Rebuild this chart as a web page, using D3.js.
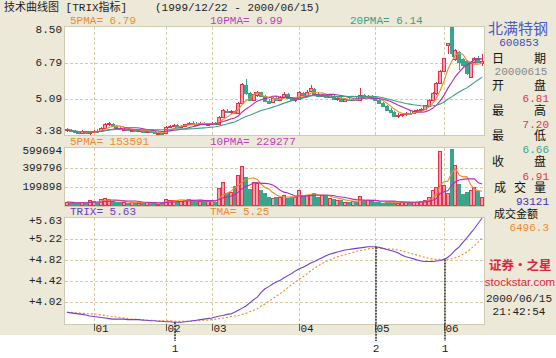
<!DOCTYPE html>
<html><head><meta charset="utf-8">
<script src="https://cdn.jsdelivr.net/npm/d3@7/dist/d3.min.js"></script>
<style>body{margin:0;background:#fff;}svg{display:block}</style>
</head><body><svg id="c" width="556" height="358"></svg>
<script>
// ---------------- data ----------------
const opens = [3.60,3.64,3.55,3.50,3.47,3.55,3.48,3.52,3.58,3.56,3.72,3.88,3.92,3.80,3.72,3.66,3.68,3.62,3.64,3.58,3.60,3.54,3.56,3.50,3.46,3.48,
3.46,3.76,3.82,3.86,3.78,3.80,3.88,3.96,3.92,3.90,3.96,3.90,
3.92,3.95,3.90,4.24,4.52,4.48,4.50,4.42,4.90,5.74,5.36,5.02,5.30,5.40,5.22,5.00,4.94,5.14,5.06,5.16,5.32,5.12,5.04,
5.08,5.38,5.24,5.46,5.58,5.32,5.22,5.28,5.18,5.24,5.08,5.12,5.00,5.08,5.04,5.10,5.06,5.28,5.16,5.22,
5.12,5.04,4.92,4.76,4.58,4.46,4.26,4.32,4.38,4.44,4.40,4.52,4.56,4.60,4.74,5.04,5.36,5.84,
6.40,7.66,8.48,6.96,7.30,6.98,6.90,6.14,6.86,7.02,6.81];
const highs = [3.72,3.68,3.60,3.56,3.60,3.58,3.58,3.62,3.66,3.75,3.96,3.98,3.95,3.84,3.76,3.72,3.70,3.68,3.66,3.64,3.66,3.62,3.60,3.56,3.52,3.54,
3.80,3.86,3.90,3.88,3.84,3.92,4.02,4.05,3.98,4.00,4.00,3.96,
4.00,4.02,4.28,4.60,4.62,4.58,4.56,4.95,5.86,6.05,5.42,5.40,5.48,5.44,5.26,5.10,5.20,5.22,5.24,5.40,5.36,5.18,5.14,
5.46,5.42,5.50,5.76,5.62,5.40,5.34,5.32,5.30,5.28,5.16,5.16,5.12,5.14,5.12,5.16,5.60,5.34,5.28,5.26,
5.18,5.08,4.96,4.80,4.64,4.50,4.40,4.42,4.48,4.50,4.56,4.60,4.66,4.82,5.10,5.40,5.88,6.44,
7.04,7.74,8.50,7.44,7.34,7.03,6.93,6.82,7.10,7.12,7.20];
const lows = [3.52,3.50,3.46,3.42,3.45,3.44,3.40,3.48,3.52,3.54,3.70,3.80,3.78,3.68,3.62,3.60,3.58,3.56,3.55,3.54,3.50,3.50,3.46,3.42,3.40,3.38,
3.44,3.70,3.76,3.74,3.72,3.78,3.84,3.88,3.84,3.86,3.86,3.84,
3.86,3.88,3.88,4.20,4.40,4.36,4.36,4.40,4.86,5.30,5.00,4.98,5.20,5.16,4.94,4.86,4.90,5.00,5.02,5.12,5.08,4.98,4.96,
5.04,5.20,5.20,5.40,5.30,5.16,5.16,5.12,5.14,5.02,4.98,4.96,4.96,4.98,4.98,5.00,5.02,5.12,5.12,5.10,
5.00,4.88,4.70,4.54,4.40,4.22,4.20,4.24,4.30,4.36,4.36,4.44,4.48,4.56,4.70,5.00,5.30,5.80,
6.36,7.20,7.10,6.90,6.46,6.60,6.22,6.10,6.80,6.78,6.66];
const closes = [3.66,3.55,3.50,3.47,3.56,3.48,3.54,3.58,3.55,3.72,3.90,3.93,3.80,3.72,3.66,3.68,3.62,3.64,3.58,3.60,3.54,3.58,3.50,3.46,3.49,3.44,
3.76,3.82,3.86,3.78,3.80,3.88,3.97,3.92,3.90,3.96,3.90,3.92,
3.95,3.92,4.24,4.55,4.48,4.54,4.42,4.90,5.80,5.36,5.04,5.34,5.42,5.22,5.00,4.92,5.14,5.06,5.18,5.34,5.12,5.04,5.10,
5.40,5.26,5.44,5.60,5.34,5.22,5.28,5.18,5.26,5.08,5.12,5.00,5.08,5.04,5.10,5.06,5.30,5.18,5.24,5.14,
5.04,4.92,4.76,4.58,4.46,4.28,4.34,4.38,4.44,4.40,4.52,4.56,4.60,4.78,5.06,5.36,5.84,6.40,
7.04,7.74,7.28,7.40,6.84,6.72,6.30,6.80,7.04,6.84,6.91];
const volumes = [42000,35000,28000,30000,38000,32000,62000,48000,36000,70000,88000,72000,55000,42000,38000,45000,36000,40000,32000,30000,34000,38000,28000,30000,26000,32000,
78000,66000,62000,58000,55000,64000,72000,60000,48000,56000,50000,52000,
48000,44000,190000,250000,135000,145000,210000,325000,420000,300000,180000,250000,240000,167000,135000,95000,80000,95000,95000,115000,80000,95000,95000,
167000,110000,110000,120000,137000,95000,110000,100000,80000,70000,63000,63000,45000,45000,48000,42000,105000,55000,60000,50000,
45000,40000,35000,45000,38000,42000,36000,40000,42000,38000,44000,40000,48000,60000,95000,170000,200000,575000,
220000,135000,599694,430000,230000,130000,150000,170000,200000,155000,93121];
const trix = [3.83,3.82,3.81,3.80,3.79,3.78,3.76,3.75,3.74,3.73,3.72,3.71,3.70,3.70,3.70,3.70,3.69,3.69,3.69,3.69,3.68,3.68,3.67,3.67,3.66,3.66,
3.65,3.65,3.64,3.64,3.64,3.65,3.66,3.67,3.68,3.69,3.70,3.71,
3.72,3.74,3.76,3.77,3.79,3.80,3.83,3.87,3.91,3.95,4.01,4.07,4.12,4.21,4.28,4.32,4.37,4.41,4.44,4.49,4.53,4.57,4.62,
4.66,4.69,4.73,4.77,4.80,4.84,4.87,4.91,4.94,4.96,4.98,5.00,5.02,5.03,5.04,5.05,5.06,5.07,5.08,5.08,
5.08,5.07,5.05,5.03,5.01,4.99,4.96,4.92,4.89,4.87,4.85,4.83,4.81,4.80,4.80,4.80,4.81,4.82,
4.84,4.88,4.94,5.02,5.08,5.17,5.25,5.34,5.43,5.53,5.63];
const tma = [3.83,3.83,3.82,3.82,3.81,3.81,3.80,3.80,3.79,3.78,3.77,3.76,3.75,3.74,3.73,3.72,3.71,3.70,3.70,3.69,3.69,3.68,3.68,3.68,3.67,3.67,
3.67,3.67,3.66,3.66,3.66,3.66,3.66,3.66,3.67,3.67,3.68,3.68,
3.69,3.70,3.71,3.72,3.73,3.75,3.76,3.77,3.79,3.81,3.84,3.87,3.90,3.95,3.99,4.04,4.09,4.14,4.19,4.24,4.30,4.36,4.41,
4.46,4.51,4.56,4.62,4.67,4.72,4.76,4.80,4.83,4.86,4.89,4.91,4.93,4.95,4.97,4.99,5.01,5.02,5.04,5.05,
5.05,5.05,5.05,5.04,5.04,5.03,5.02,5.00,4.98,4.96,4.94,4.92,4.90,4.88,4.86,4.85,4.84,4.84,
4.84,4.84,4.85,4.87,4.90,4.94,4.98,5.04,5.10,5.17,5.25];
const monthLabels = ["01","02","03","04","05","06"];
const monthStartIdx = [7,26,38,61,81,99];
const priceTicks = [3.38,5.09,6.79,8.50];
const volTicks = [199898,399796,599694];
const trixTicks = [4.02,4.42,4.82,5.22,5.63];
const trixTickLabels = ["+4.02","+4.42","+4.82","+5.22","+5.63"];
const signalIdx = [28,81,99];
const signalLabels = ["1","2","1"];
const priceLegend = ["5PMA= 6.79","10PMA= 6.99","20PMA= 6.14"];
const volLegend = ["5PMA= 153591","10PMA= 229277"];
const trixLegend = ["TRIX= 5.63","TMA= 5.25"];
const infoLabels = [["日","期"],["开","盘"],["最","高"],["最","低"],["收","盘"],["成","交","量"],["成交金额"]];
const infoValues = ["20000615","6.81","7.20","6.66","6.91","93121","6496.3"];

// ---------------- drawing ----------------
const svg = d3.select("#c");
const MONO = "'Liberation Mono','DejaVu Sans Mono',monospace";
const CJK = "'Noto Sans CJK SC','Noto Sans',sans-serif";
const BG = "#ECE9D8", GRID = "#d4cca4";
const UP = "#e8304c", UPFILL = "#f5a3ad", DOWN = "#3aa58b";
const C5 = "#f08a2c", C10 = "#b42cb4", C20 = "#3a9f84";

svg.append("rect").attr("width",556).attr("height",335).attr("fill",BG);

const n = closes.length;
const L = 65, R = 484;
const x = d3.scaleBand().domain(d3.range(n)).range([L,R]).paddingInner(0);
const cx = i => x(i) + x.bandwidth()/2;

const panels = {
  price: {top:27, bottom:135, y: d3.scaleLinear().domain([3.38,8.50]).range([135,27])},
  vol:   {top:148.7, bottom:206, y: d3.scaleLinear().domain([0,599694]).range([206,148.7])},
  trix:  {top:218, bottom:324, y: d3.scaleLinear().domain([3.607,5.63]).range([324,218])}
};

function frame(p, gridVals){
  svg.append("rect").attr("x",L-0.5).attr("y",Math.floor(p.top)-0.5)
    .attr("width",R-L+1).attr("height",Math.round(p.bottom-Math.floor(p.top))+1)
    .attr("fill","#fff").attr("stroke","#cfcab4");
  const g = svg.append("g").attr("stroke",GRID).attr("stroke-dasharray","3,2").attr("shape-rendering","crispEdges");
  g.selectAll(".h").data(gridVals).join("line")
    .attr("x1",L).attr("x2",R).attr("y1",d=>Math.round(p.y(d))+0.5).attr("y2",d=>Math.round(p.y(d))+0.5);
  g.selectAll(".v").data(monthStartIdx).join("line")
    .attr("x1",d=>Math.round(cx(d))+0.5).attr("x2",d=>Math.round(cx(d))+0.5)
    .attr("y1",Math.floor(p.top)).attr("y2",p.bottom);
}
function axisLabels(p, vals, labels){
  svg.append("g").selectAll("text").data(vals).join("text")
    .attr("x",62).attr("y",d=>Math.min(Math.max(p.y(d), p.top+2.5), p.bottom-4.5))
    .attr("text-anchor","end").attr("dominant-baseline","central")
    .attr("font-family",MONO).attr("font-size",11).attr("fill","#222")
    .text((d,i)=>labels ? labels[i] : d3.format(d>1000?"d":".2f")(d));
}
function legend(yc, items, colors, xs){
  svg.append("g").selectAll("text").data(items).join("text")
    .attr("x",(d,i)=>xs[i]).attr("y",yc).attr("dominant-baseline","central")
    .attr("font-family",MONO).attr("font-size",11).attr("fill",(d,i)=>colors[i]).text(d=>d);
}
function ma(arr, k){ return arr.map((_,i)=>d3.mean(arr.slice(Math.max(0,i-k+1), i+1))); }

// title
svg.append("text").attr("x",4).attr("y",8).attr("dominant-baseline","central")
  .attr("font-family",MONO+","+CJK).attr("font-size",11).attr("fill","#222").text("技术曲线图 [TRIX指标]");
svg.append("text").attr("x",155).attr("y",8).attr("dominant-baseline","central")
  .attr("font-family",MONO).attr("font-size",11).attr("fill","#222").text("(1999/12/22 - 2000/06/15)");

// ---- price panel
const pp = panels.price;
frame(pp, [5.09,6.79]);
axisLabels(pp, priceTicks);
legend(21, priceLegend, [C5,"#c03cc0",C20], [70,210,350]);
const cg = svg.append("g").attr("shape-rendering","crispEdges");
d3.range(n).forEach(i=>{
  const up = closes[i] >= opens[i];
  const c = Math.round(cx(i));
  const col = up ? UP : DOWN;
  cg.append("line").attr("x1",c+0.5).attr("x2",c+0.5)
    .attr("y1",pp.y(highs[i])).attr("y2",pp.y(lows[i])).attr("stroke",col);
  const yt = Math.round(pp.y(Math.max(opens[i],closes[i])));
  const yb = Math.round(pp.y(Math.min(opens[i],closes[i])));
  cg.append("rect").attr("x",c-1.5).attr("y",yt+0.5).attr("width",3).attr("height",Math.max(yb-yt,1))
    .attr("fill", up ? UPFILL : DOWN).attr("stroke",col);
});
[[5,C5],[10,C10],[20,C20]].forEach(([k,col])=>{
  svg.append("path").datum(ma(closes,k))
    .attr("d",d3.line().x((d,i)=>cx(i)).y(d=>pp.y(d)))
    .attr("fill","none").attr("stroke",col).attr("stroke-width",1.1);
});

// ---- volume panel
const vp = panels.vol;
frame(vp, [199898,399796]);
axisLabels(vp, volTicks);
legend(142, volLegend, [C5,"#c03cc0"], [70,210]);
const vg = svg.append("g").attr("shape-rendering","crispEdges");
d3.range(n).forEach(i=>{
  const up = closes[i] >= opens[i];
  const c = Math.round(cx(i));
  const yt = Math.round(vp.y(volumes[i]));
  vg.append("rect").attr("x",c-1.5).attr("y",yt+0.5).attr("width",3).attr("height",Math.max(205-yt,1))
    .attr("fill", up ? UPFILL : DOWN).attr("stroke", up ? UP : DOWN);
});
[[5,C5],[10,C10]].forEach(([k,col])=>{
  svg.append("path").datum(ma(volumes,k))
    .attr("d",d3.line().x((d,i)=>cx(i)).y(d=>vp.y(d)))
    .attr("fill","none").attr("stroke",col).attr("stroke-width",1.1);
});

// ---- TRIX panel
const tp = panels.trix;
frame(tp, [4.02,4.42,4.82,5.22]);
axisLabels(tp, trixTicks, trixTickLabels);
legend(212, trixLegend, ["#6a3ccc",C5], [70,210]);
svg.append("path").datum(tma)
  .attr("d",d3.line().x((d,i)=>cx(i)).y(d=>tp.y(d)))
  .attr("fill","none").attr("stroke","#f08a2c").attr("stroke-width",1.1).attr("stroke-dasharray","2,2");
svg.append("path").datum(trix)
  .attr("d",d3.line().x((d,i)=>cx(i)).y(d=>tp.y(d)))
  .attr("fill","none").attr("stroke","#7040d4").attr("stroke-width",1.1);

// month ticks
const mg = svg.append("g");
monthStartIdx.forEach((d,i)=>{
  const c = Math.round(cx(d))+0.5;
  mg.append("line").attr("x1",c).attr("x2",c).attr("y1",324).attr("y2",331).attr("stroke","#555");
  mg.append("text").attr("x",c+1).attr("y",329).attr("dominant-baseline","central")
    .attr("font-family",MONO).attr("font-size",11).attr("fill","#222").text(monthLabels[i]);
});

// signals
signalIdx.forEach((d,i)=>{
  const c = Math.round(cx(d))+1;
  svg.append("line").attr("x1",c).attr("x2",c).attr("y1",tp.y(trix[d])).attr("y2",341)
    .attr("stroke","#333").attr("stroke-width",1.6).attr("stroke-dasharray","2,1");
  svg.append("text").attr("x",c).attr("y",349).attr("text-anchor","middle").attr("dominant-baseline","central")
    .attr("font-family",MONO).attr("font-size",11).attr("fill","#222").text(signalLabels[i]);
});

// ---- right info panel
svg.append("text").attr("x",518).attr("y",27).attr("text-anchor","middle").attr("dominant-baseline","central")
  .attr("font-family",CJK).attr("font-size",15).attr("fill","#4a58c8").text("北满特钢");
svg.append("text").attr("x",519).attr("y",43).attr("text-anchor","middle").attr("dominant-baseline","central")
  .attr("font-family",MONO).attr("font-size",11).attr("fill","#4050b0").text("600853");
const labY = [60,87,112,137,163,189,215];
const valY = [72,99,125,150,177,202,228];
const valCol = ["#888","#e83048","#e83048","#3aa58b","#e83048","#4030c0","#f08a2c"];
infoLabels.forEach((lab,i)=>{
  const xs = lab.length===2 ? [498,540] : lab.length===3 ? [500,520,540] : [494];
  lab.forEach((t,j)=>{
    svg.append("text").attr("x",xs[j]).attr("y",labY[i])
      .attr("text-anchor", lab.length===1 ? "start" : "middle").attr("dominant-baseline","central")
      .attr("font-family",MONO+","+CJK).attr("font-size",lab.length===1?11:12).attr("fill","#111").text(t);
  });
  const t = svg.append("text").attr("y",valY[i]).attr("dominant-baseline","central")
    .attr("font-family",MONO).attr("font-size",11).attr("fill",valCol[i]).text(infoValues[i]);
  if(i===0) t.attr("x",521).attr("text-anchor","middle"); else t.attr("x",549).attr("text-anchor","end");
});
svg.append("text").attr("x",489).attr("y",264).attr("dominant-baseline","central")
  .attr("font-family",CJK).attr("font-weight","bold").attr("font-size",12.5)
  .attr("fill","#e0243a").text("证券·之星");
svg.append("text").attr("x",520).attr("y",282).attr("text-anchor","middle").attr("dominant-baseline","central")
  .attr("font-family","'Liberation Sans',Arial,sans-serif").attr("font-size",11.5).attr("fill","#e0243a").text("stockstar.com");
svg.append("text").attr("x",519).attr("y",299).attr("text-anchor","middle").attr("dominant-baseline","central")
  .attr("font-family",MONO).attr("font-size",11).attr("fill","#222").text("2000/06/15");
svg.append("text").attr("x",519).attr("y",312).attr("text-anchor","middle").attr("dominant-baseline","central")
  .attr("font-family",MONO).attr("font-size",11).attr("fill","#222").text("21:42:54");
</script></body></html>
